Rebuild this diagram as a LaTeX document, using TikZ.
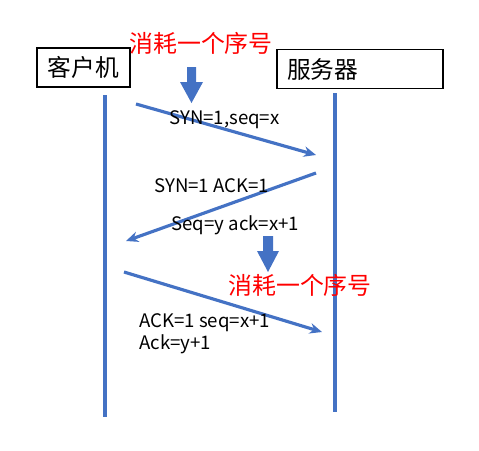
\documentclass[tikz,border=0pt]{standalone}
\usepackage{fontspec}
\setmainfont{Noto Sans CJK SC}
\usetikzlibrary{arrows.meta}
\definecolor{lineblue}{HTML}{4472C4}

\begin{document}
\begin{tikzpicture}[x=0.02cm, y=-0.02cm,
   box_style/.style={draw=black, line width=0.8pt, minimum height=0.78cm, inner sep=0pt, font=\fontsize{13.5}{15}\selectfont},
   msg_style/.style={draw=lineblue, line width=1.8pt, -{Stealth[length=7pt, width=6pt]}},
   life_style/.style={draw=lineblue, line width=1.8pt},
   red_style/.style={text=red, font=\fontsize{13.6}{16}\selectfont},
   label_style/.style={anchor=west, inner sep=0pt, font=\fontsize{10.6}{12}\selectfont}]

    \useasboundingbox (0,0) rectangle (479,450);

    % the two ends
    \node[box_style, minimum width=1.86cm] (client) at (83.5,67.5) {客户机};
    \node[box_style, minimum width=3.32cm, text width=2.92cm, align=left] (server) at (360,69) {服务器};

    % life lines
    \coordinate (c_top) at (105,95);
    \coordinate (c_bot) at (105,417);
    \coordinate (s_top) at (335,93);
    \coordinate (s_bot) at (335,412);
    \draw[life_style] (c_top) -- (c_bot);
    \draw[life_style] (s_top) -- (s_bot);

    % messages
    \coordinate (m1_a) at (136,104);
    \coordinate (m1_b) at (316,155);
    \coordinate (m2_a) at (316,173);
    \coordinate (m2_b) at (126,241);
    \coordinate (m3_a) at (124,272);
    \coordinate (m3_b) at (322,332);
    \draw[msg_style] (m1_a) -- (m1_b);
    \draw[msg_style] (m2_a) -- (m2_b);
    \draw[msg_style] (m3_a) -- (m3_b);

    \node[label_style] (syn) at (169,120) {SYN=1,seq=x};
    \node[label_style] (synack) at (154,186) {SYN=1 ACK=1};
    \node[label_style] (seqack) at (171,225) {Seq=y ack=x+1};
    \node[label_style] (ack1) at (139,323) {ACK=1 seq=x+1};
    \node[label_style] (ack2) at (139,344) {Ack=y+1};

    % sequence numbers used up
    \node[red_style] (used1) at (201,43) {消耗一个序号};
    \node[red_style] (used2) at (300,285) {消耗一个序号};
    \fill[lineblue] (187,67) -- (196,67) -- (196,82) -- (203,82) -- (191.5,103)
        -- (180,82) -- (187,82) -- cycle;
    \fill[lineblue] (263,236) -- (273,236) -- (273,251) -- (279,251) -- (268,272)
        -- (257,251) -- (263,251) -- cycle;
\end{tikzpicture}
\end{document}
